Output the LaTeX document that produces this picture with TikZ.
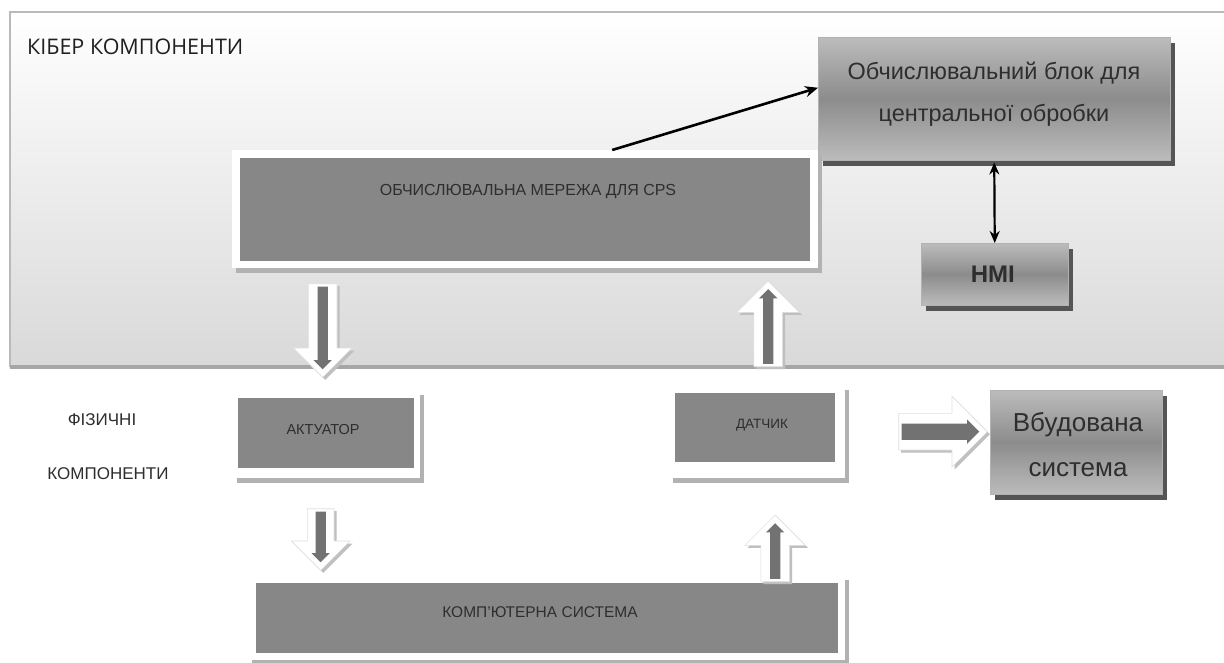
\documentclass[tikz,border=0pt]{standalone}
\usepackage{fontspec}
\setmainfont{Liberation Sans}
\newfontfamily\headfont{Open Sans}
\usetikzlibrary{shapes.arrows,shadows,calc,arrows.meta}

\definecolor{boxgray}{HTML}{878787}
\definecolor{txt}{HTML}{2E2E2E}
\definecolor{glight}{HTML}{BCBCBC}
\definecolor{gmid}{HTML}{8C8C8C}
\definecolor{gshadow}{HTML}{555555}
\definecolor{coregray}{HTML}{727272}

\tikzset{
  panel/.style={inner sep=0, anchor=north west, top color=white, bottom color=gray!30},
  framebox/.style={fill=white, inner sep=0, anchor=north west,
    drop shadow={shadow xshift=4pt, shadow yshift=-5pt, fill=gray!60, opacity=1}},
  innerbox/.style={fill=boxgray, inner sep=0},
  gradbox/.style={inner sep=0, anchor=north west, draw=gray!60, line width=0.5pt,
    top color=glight, bottom color=glight, middle color=gmid,
    drop shadow={shadow xshift=5pt, shadow yshift=-6pt, fill=gshadow, opacity=1}},
  lbl/.style={text=txt, inner sep=0},
  outerarrow/.style={single arrow, fill=white, draw=gray!25, line width=0.6pt,
    inner xsep=0, anchor=tail, single arrow tip angle=90,
    drop shadow={shadow xshift=2.5pt, shadow yshift=-2.5pt, fill=gray!50, opacity=1}},
  innerarrow/.style={single arrow, fill=coregray, draw=none,
    inner xsep=0, anchor=tail, single arrow tip angle=90},
  link/.style={line width=2.6pt, black}
}

% a hollow block arrow named #1 from #2 to #3;
% #4 head width, #5 shaft width, #6 core shaft width
\newcommand\blockarrow[6]{%
  \path let \p1=(#2), \p2=(#3), \n1={atan2(\y2-\y1,\x2-\x1)},
        \n2={veclen(\x2-\x1,\y2-\y1)} in
    node[outerarrow, rotate=\n1, minimum height=\n2, minimum width=#4,
         inner ysep=#5/2, single arrow head extend=(#4-#5)/2] (#1) at (\p1) {}
    node[innerarrow, rotate=\n1, minimum height=\n2-11pt, minimum width=#6+8pt,
         inner ysep=#6/2, single arrow head extend=4pt] (#1-core) at ($(\p1)!3pt!(\p2)$) {};
}

\begin{document}
\begin{tikzpicture}[x=1pt,y=-1pt]
\useasboundingbox (0,0) rectangle (1224,662);
\fill[white] (0,0) rectangle (1224,662);

% cyber layer
\node[panel, minimum width=1214pt, minimum height=355pt] (cyber) at (10,12) {};
\draw[gray!55, line width=1.5pt] (cyber.south west) |- (cyber.north east);
\draw[gray!70, line width=4pt] (cyber.south west) -- (cyber.south east);
\node[lbl, anchor=west, font=\headfont\fontsize{21.5}{24}\selectfont, text=gray!25!black]
  (cybertitle) at (27,47) {КІБЕР КОМПОНЕНТИ};

% central processing block
\node[gradbox, minimum width=352pt, minimum height=123pt] (cpu) at (818,37) {};
\node[lbl, font=\fontsize{23.5}{27}\selectfont] (cpu1) at (994,73) {Обчислювальний блок для};
\node[lbl, font=\fontsize{23.5}{27}\selectfont] (cpu2) at (994,115) {центральної обробки};

% computing network
\node[framebox, minimum width=586pt, minimum height=118pt] (netframe) at (232,150) {};
\node[innerbox, minimum width=570pt, minimum height=103pt] (net) at (netframe.center) {};
\node[lbl, font=\fontsize{16}{19}\selectfont] (netlbl) at (528,192) {ОБЧИСЛЮВАЛЬНА МЕРЕЖА ДЛЯ CPS};

% HMI
\node[gradbox, minimum width=147pt, minimum height=62pt] (hmi) at (921,243) {};
\node[lbl, font=\bfseries\fontsize{24}{28}\selectfont] (hmilbl) at ([xshift=-2pt]hmi.center) {HMI};

\draw[link, -{Stealth[length=13pt,width=11pt]}] ([xshift=87pt]netframe.north) -- ([yshift=11pt]cpu.west);
\draw[line width=2.2pt, {Stealth[length=12pt,width=10pt]}-{Stealth[length=12pt,width=10pt]}]
  ([yshift=-2pt]cpu.south) -- (hmi.north);

% physical layer
\node[lbl, font=\fontsize{17}{20}\selectfont] (phys1) at (102,420) {ФІЗИЧНІ};
\node[lbl, font=\fontsize{17}{20}\selectfont] (phys2) at (108,474) {КОМПОНЕНТИ};

\node[framebox, minimum width=187pt, minimum height=88pt] (actframe) at (233,390) {};
\node[innerbox, minimum width=176pt, minimum height=70pt] (act) at ([xshift=-1pt,yshift=1pt]actframe.center) {};
\node[lbl, font=\fontsize{14.5}{17}\selectfont] (actlbl) at (323,430) {АКТУАТОР};

\node[framebox, minimum width=176pt, minimum height=93pt] (sensframe) at (669,385) {};
\node[innerbox, minimum width=160pt, minimum height=69pt] (sens) at (755,427.5) {};
\node[lbl, font=\fontsize{13.5}{16}\selectfont] (senslbl) at (762,425) {ДАТЧИК};

\node[gradbox, minimum width=172pt, minimum height=104pt] (emb) at (990,390) {};
\node[lbl, font=\fontsize{26}{30}\selectfont] (emb1) at (1078,425) {Вбудована};
\node[lbl, font=\fontsize{26}{30}\selectfont] (emb2) at (1078,470) {система};

\node[framebox, minimum width=597pt, minimum height=85pt] (compframe) at (248,575) {};
\node[innerbox, minimum width=582pt, minimum height=70pt] (comp) at (compframe.center) {};
\node[lbl, font=\fontsize{15.5}{18}\selectfont] (complbl) at (540,612) {КОМП’ЮТЕРНА СИСТЕМА};

% block arrows between the layers
\coordinate (a1t) at ([xshift=-3pt,yshift=-15pt]netframe.south -| act.north);
\coordinate (a1h) at ([xshift=-3pt,yshift=21pt]act.north);
\blockarrow{netdown}{a1t}{a1h}{58pt}{28pt}{10pt}

\coordinate (a2t) at ([xshift=11pt,yshift=18pt]sensframe.north);
\coordinate (a2h) at ([xshift=11pt,yshift=-13pt]netframe.south -| sensframe.north);
\blockarrow{sensup}{a2t}{a2h}{62pt}{28pt}{10pt}

\coordinate (a3t) at ([xshift=-6pt,yshift=-30pt]actframe.south);
\coordinate (a3h) at ([xshift=-6pt,yshift=5pt]compframe.north -| actframe.south);
\blockarrow{actdown}{a3t}{a3h}{58pt}{26pt}{10pt}

\coordinate (a4t) at ([xshift=18pt,yshift=-7pt]compframe.north -| sensframe.south);
\coordinate (a4h) at ([xshift=18pt,yshift=-37pt]sensframe.south);
\blockarrow{compup}{a4t}{a4h}{60pt}{28pt}{10pt}

\coordinate (a5t) at ([xshift=53pt]sensframe.east);
\coordinate (a5h) at ([xshift=-3pt]a5t -| emb.west);
\blockarrow{toemb}{a5t}{a5h}{70pt}{36pt}{16pt}
\end{tikzpicture}
\end{document}
